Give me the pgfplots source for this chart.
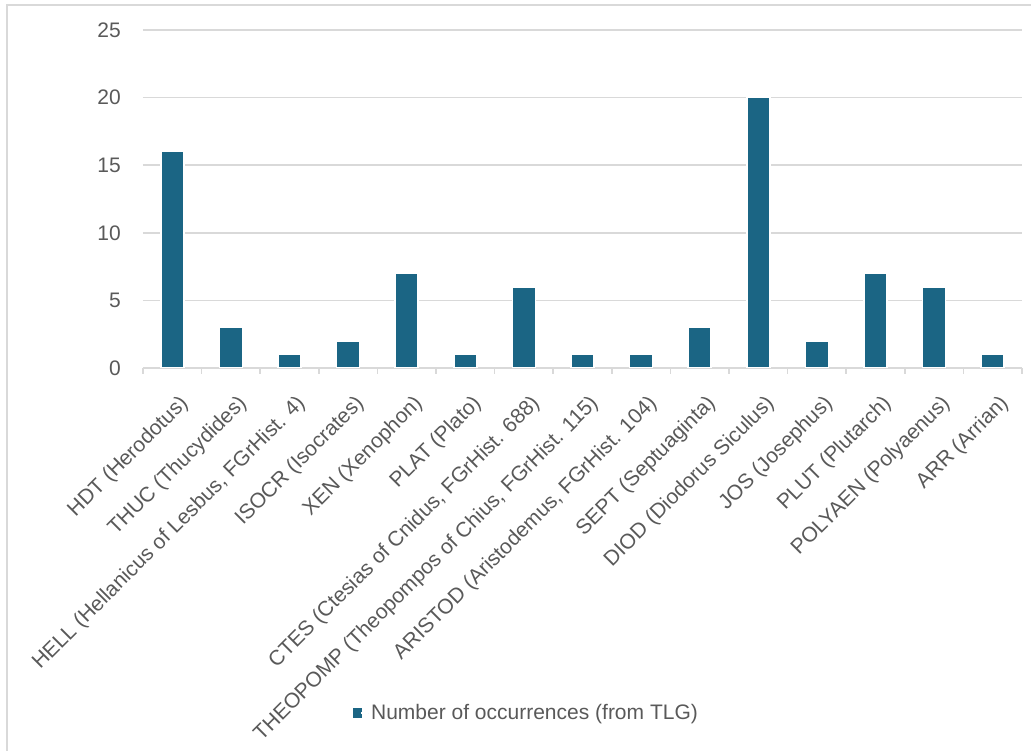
\documentclass[border=0pt]{standalone}
\usepackage{fontspec}
\setmainfont{Liberation Sans}
\usepackage{pgfplots}
\pgfplotsset{compat=1.18}
\definecolor{barcol}{HTML}{1B6584}
\definecolor{txtgray}{HTML}{595959}
\definecolor{gridgray}{HTML}{D9D9D9}
\begin{document}
\begin{tikzpicture}
\useasboundingbox (0,0) rectangle (1031pt,751pt);
\draw[gridgray, line width=1.5pt] (7pt,0pt) -- (7pt,746pt) -- (1031pt,746pt);
\begin{axis}[
  at={(143pt,383pt)}, anchor=south west,
  scale only axis, width=879pt, height=338pt,
  xmin=-0.5, xmax=14.5, ymin=0, ymax=25,
  ytick={0,5,...,25},
  xtick={0,...,14},
  xticklabels={HDT (Herodotus),THUC (Thucydides),{HELL (Hellanicus of Lesbus, FGrHist. 4)},ISOCR (Isocrates),XEN (Xenophon),PLAT (Plato),{CTES (Ctesias of Cnidus, FGrHist. 688)},{THEOPOMP (Theopompos of Chius, FGrHist. 115)},{ARISTOD (Aristodemus, FGrHist. 104)},SEPT (Septuaginta),DIOD (Diodorus Siculus),JOS (Josephus),PLUT (Plutarch),POLYAEN (Polyaenus),ARR (Arrian)},
  minor xtick={-0.5,0.5,...,14.5},
  major tick length=0pt, minor tick length=6pt, tick align=outside,
  minor tick style={gridgray, line width=1.5pt},
  axis lines*=left,
  x axis line style={gridgray, line width=1.5pt, -},
  y axis line style={draw=none},
  ytick style={draw=none},
  ymajorgrids, grid style={gridgray, line width=1.5pt},
  /pgf/number format/assume math mode=true,
  tick label style={font=\fontsize{21}{24}\selectfont, text=txtgray},
  yticklabel style={anchor=east, inner sep=0pt, xshift=-22pt},
  xticklabel style={rotate=45, anchor=east, inner sep=0pt, xshift=-14pt, yshift=-32pt},
  legend style={at={(0.436,-1.021)}, anchor=center, draw=none, fill=none,
    font=\fontsize{21}{24}\selectfont, text=txtgray},
  ybar, bar width=23pt,
  legend image code/.code={\fill[barcol] (0pt,-4pt) rectangle (8pt,4pt); \path (8pt,0pt) -- (15pt,0pt);},
]
\addplot[fill=barcol, draw=white, line width=1.5pt] coordinates {
(0,16) (1,3) (2,1) (3,2) (4,7) (5,1) (6,6) (7,1) (8,1) (9,3) (10,20) (11,2) (12,7) (13,6) (14,1)
};
\addlegendentry{Number of occurrences (from TLG)}
\end{axis}
\end{tikzpicture}
\end{document}
